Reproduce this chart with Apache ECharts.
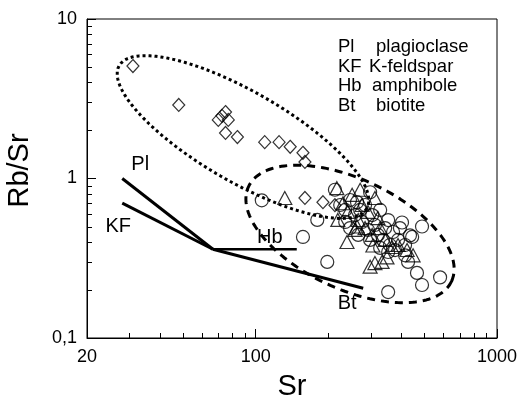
<!DOCTYPE html>
<html>
<head>
<meta charset="utf-8">
<script src="https://cdn.jsdelivr.net/npm/echarts@6/dist/echarts.min.js"></script>
<style>
html,body{margin:0;padding:0;background:#fff;}
#c{width:522px;height:406px;}
</style>
</head>
<body>
<div id="c"></div>
<script>
// ---- axis ticks ----
const xTickLabels = [20, 100, 1000];
const yTickLabels = [0.1, 1, 10];
const xMinorTicks = [30, 40, 50, 60, 70, 80, 90, 200, 300, 400, 500, 600, 700, 800, 900];
const yMinorTicks = [0.2, 0.3, 0.4, 0.5, 0.6, 0.7, 0.8, 0.9, 2, 3, 4, 5, 6, 7, 8, 9];

// ---- scatter data [Sr, Rb/Sr] ----
const diamonds = [
  [31, 5.07], [48, 2.89], [70, 2.33], [72.5, 2.47], [75, 2.61], [77, 2.33], [75, 1.93], [84, 1.82],
  [109, 1.69], [125, 1.69], [139, 1.58], [157, 1.45], [160, 1.27], [160, 0.755], [190, 0.71], [213, 0.68]
];
const triangles = [
  [132, 0.755], [217, 0.87], [271, 0.85], [312, 0.755], [219, 0.55], [239, 0.40], [306, 0.38], [298, 0.28],
  [334, 0.30], [312, 0.295], [350, 0.32], [424, 0.356], [449, 0.33], [263, 0.50],
  [230, 0.70], [241, 0.617], [251, 0.79], [266, 0.549], [284, 0.489], [304, 0.443], [321, 0.565],
  [344, 0.412], [367, 0.372], [389, 0.383], [276, 0.682], [258, 0.476], [328, 0.489], [292, 0.617]
];
const circles = [
  [106, 0.73], [180, 0.55], [157, 0.43], [198, 0.30], [213, 0.85], [263, 0.71], [298, 0.82], [404, 0.53],
  [489, 0.50], [445, 0.43], [354, 0.194], [581, 0.24], [489, 0.215], [466, 0.256], [428, 0.30], [436, 0.44],
  [416, 0.33],
  [224, 0.682], [235, 0.635], [246, 0.733], [258, 0.59], [271, 0.635], [276, 0.534], [284, 0.682],
  [292, 0.476], [304, 0.59], [312, 0.511], [321, 0.443], [328, 0.635], [337, 0.412], [344, 0.489],
  [354, 0.549], [360, 0.383], [371, 0.462], [378, 0.356], [389, 0.412], [246, 0.489], [235, 0.534],
  [266, 0.443], [298, 0.412], [328, 0.367], [354, 0.346], [396, 0.489], [416, 0.383]
];

// ---- mineral vectors ----
const plLine = [[28, 1.0], [66.5, 0.36]];
const kfLine = [[28, 0.70], [66.5, 0.36]];
const hbLine = [[66.5, 0.36], [148, 0.36]];
const btLine = [[66.5, 0.36], [279, 0.205]];

// ---- field ellipses: centre [Sr, Rb/Sr], half-axes in log10 decades [dx, dy] ----
const dottedCenter = [88.6, 1.82];
const dottedAxisA = [0.513, -0.448];
const dottedAxisB = [-0.0932, -0.2444];
const dashedCenter = [246, 0.449];
const dashedAxisA = [0.4206, -0.2972];
const dashedAxisB = [-0.0964, -0.3124];

const legendAbbr = ['Pl', 'KF', 'Hb', 'Bt'];
const legendName = ['plagioclase', 'K-feldspar', 'amphibole', 'biotite'];

function ellipse(c, A, B) {
  const out = [];
  const n = 180;
  const lx = Math.log10(c[0]), ly = Math.log10(c[1]);
  for (let i = 0; i <= n; i++) {
    const t = 2 * Math.PI * i / n;
    out.push([Math.pow(10, lx + Math.cos(t) * A[0] + Math.sin(t) * B[0]),
              Math.pow(10, ly + Math.cos(t) * A[1] + Math.sin(t) * B[1])]);
  }
  return out;
}

const FONT = 'Liberation Sans, Arial, sans-serif';
const chart = echarts.init(document.getElementById('c'), null, {renderer: 'canvas'});

function lineSeries(name, data, width, labelIdx, labelText, offset) {
  return {
    name: name, type: 'line', z: 3,
    data: data.map((d, i) => i === labelIdx ? {
      value: d,
      label: {show: true, formatter: labelText, position: 'inside', offset: offset,
              fontSize: 20, fontFamily: FONT, color: '#000'}
    } : {value: d}),
    symbol: 'circle', symbolSize: 1, showSymbol: true,
    itemStyle: {color: 'rgba(0,0,0,0)'},
    lineStyle: {color: '#000', width: width},
    silent: true, animation: false
  };
}

const legendGraphics = [];
const legendY = [48, 67.5, 87, 106.5];
const legendNameX = [376, 369, 372, 376];
legendAbbr.forEach((a, i) => {
  legendGraphics.push({type: 'text', left: 338, top: legendY[i] - 10.5,
    style: {text: a, font: '18.5px ' + FONT, fill: '#000'}});
  legendGraphics.push({type: 'text', left: legendNameX[i], top: legendY[i] - 10.5,
    style: {text: legendName[i], font: '18.5px ' + FONT, fill: '#000'}});
});

const option = {
  animation: false,
  backgroundColor: '#fff',
  grid: {left: 87, top: 19, right: 25, bottom: 68, show: true, borderColor: '#000', borderWidth: 1,
         containLabel: false, outerBoundsMode: 'none'},
  xAxis: {
    type: 'log', logBase: 10, min: 20, max: 1000,
    name: 'Sr', nameLocation: 'middle', nameGap: 34,
    nameTextStyle: {fontSize: 29, fontFamily: FONT, color: '#000'},
    axisLine: {lineStyle: {color: '#000', width: 1}},
    axisTick: {inside: true, length: 9, lineStyle: {color: '#000'}},
    axisLabel: {fontSize: 18, fontFamily: FONT, color: '#000', margin: 10,
      formatter: v => String(Number(v.toPrecision(6)))},
    splitLine: {show: false}
  },
  yAxis: {
    type: 'log', logBase: 10, min: 0.1, max: 10,
    name: 'Rb/Sr', nameLocation: 'middle', nameGap: 53,
    nameTextStyle: {fontSize: 29, fontFamily: FONT, color: '#000', padding: [0, 0, 0, 16]},
    axisLine: {lineStyle: {color: '#000', width: 1}},
    axisTick: {inside: true, length: 9, lineStyle: {color: '#000'}},
    axisLabel: {fontSize: 18, fontFamily: FONT, color: '#000', margin: 10,
      formatter: v => String(Number(v.toPrecision(6))).replace('.', ',')},
    splitLine: {show: false}
  },
  graphic: legendGraphics,
  series: [
    {
      type: 'line', silent: true, z: 2, showSymbol: false, symbol: 'none', smooth: false,
      data: ellipse(dottedCenter, dottedAxisA, dottedAxisB),
      lineStyle: {color: '#000', width: 3, type: [3, 3], cap: 'butt'}
    },
    {
      type: 'line', silent: true, z: 2, showSymbol: false, symbol: 'none', smooth: false,
      data: ellipse(dashedCenter, dashedAxisA, dashedAxisB),
      lineStyle: {color: '#000', width: 3, type: [8, 6], cap: 'butt'}
    },
    lineSeries('Pl', plLine, 3, 0, 'Pl', [18, -14]),
    lineSeries('KF', kfLine, 3, 0, 'KF', [-4, 23]),
    lineSeries('Hb', hbLine, 2.5, 1, 'Hb', [-27, -12]),
    lineSeries('Bt', btLine, 3, 1, 'Bt', [-16, 15]),
    {
      type: 'scatter', z: 4, data: diamonds, symbol: 'diamond', symbolSize: [12, 13],
      itemStyle: {color: 'rgba(0,0,0,0)', borderColor: '#000', borderWidth: 1.2}
    },
    {
      type: 'scatter', z: 4, data: triangles, symbol: 'triangle', symbolSize: [14, 13],
      itemStyle: {color: 'rgba(0,0,0,0)', borderColor: '#000', borderWidth: 1.2}
    },
    {
      type: 'scatter', z: 4, data: circles, symbol: 'circle', symbolSize: 13,
      itemStyle: {color: 'rgba(0,0,0,0)', borderColor: '#000', borderWidth: 1.2}
    }
  ]
};
chart.setOption(option);

// minor ticks, positioned through the axes' own log scales
const tickEls = [];
xMinorTicks.forEach(v => {
  const p = chart.convertToPixel({gridIndex: 0}, [v, yTickLabels[0]]);
  const x = Math.round(p[0]) + 0.5;
  tickEls.push({type: 'line', silent: true, z: 50,
    shape: {x1: x, y1: p[1], x2: x, y2: p[1] - 5}, style: {stroke: '#000', lineWidth: 1}});
});
yMinorTicks.forEach(v => {
  const p = chart.convertToPixel({gridIndex: 0}, [xTickLabels[0], v]);
  const y = Math.round(p[1]) + 0.5;
  tickEls.push({type: 'line', silent: true, z: 50,
    shape: {x1: p[0], y1: y, x2: p[0] + 5, y2: y}, style: {stroke: '#000', lineWidth: 1}});
});
chart.setOption({graphic: legendGraphics.concat(tickEls)});
</script>
</body>
</html>
